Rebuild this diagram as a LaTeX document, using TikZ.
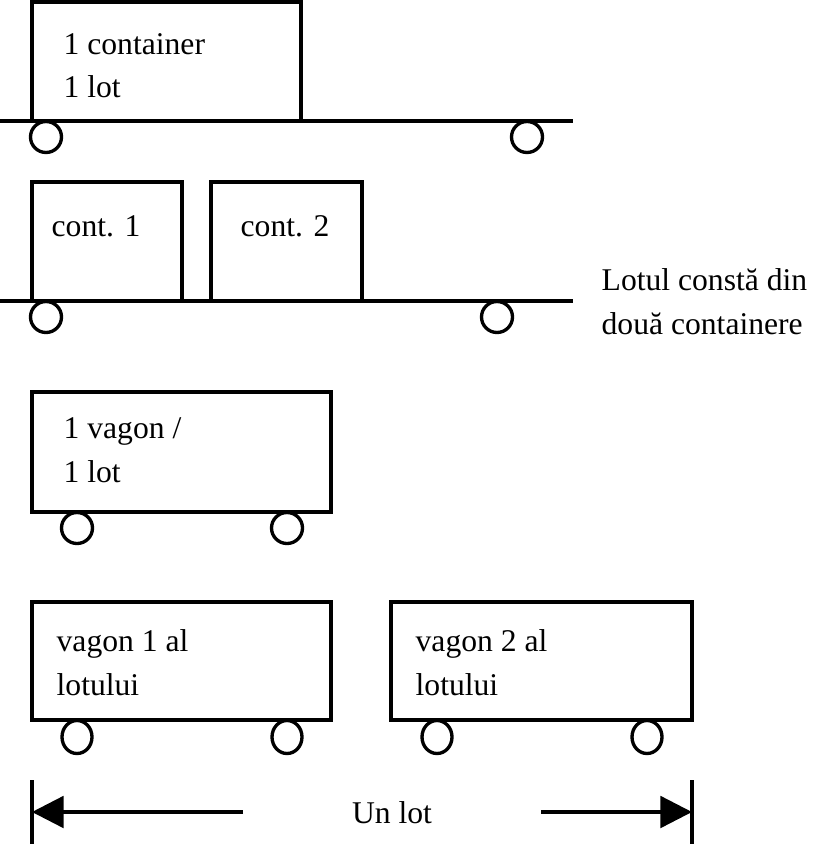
\documentclass[tikz,border=0pt]{standalone}
\usepackage{fontspec}
\setmainfont{Liberation Serif}
\usetikzlibrary{arrows.meta, positioning}

\begin{document}
\begin{tikzpicture}[
  x=0.02cm, y=-0.02cm,
  line width=1.9pt,
  lbl/.style={anchor=base west, align=left, inner sep=0pt, font=\fontsize{18}{25}\selectfont},
  dimarrow/.style={-{Triangle[length=18pt, width=18pt]}}
]
  \useasboundingbox (0,0) rectangle (812,844);

  % 1 container = 1 lot (base anchor sits on the last line)
  \draw (32,2) rectangle (301,121);
  \node[lbl] (onecont) at (62,98) {1 container\\1 lot};
  \draw (0,121) -- (573,121);
  \draw (46,137) circle[radius=15.5] (527,137) circle[radius=15.5];

  % two containers = 1 lot
  \draw (32,182) rectangle (182,301);
  \draw (211,182) rectangle (362,301);
  \node[lbl] (contA) at (50,236) {cont. 1};
  \node[lbl] (contB) at (239,236) {cont. 2};
  \draw (0,301) -- (573,301);
  \draw (46,317) circle[radius=15.5] (497,317) circle[radius=15.5];
  \node[lbl] (lotnote) at (600,334) {Lotul constă din\\două containere};

  % 1 wagon = 1 lot
  \draw (32,392) rectangle (331,512);
  \node[lbl] (onevag) at (62,482) {1 vagon /\\1 lot};
  \draw (77,528) circle[radius=15.5] (287,528) circle[radius=15.5];

  % two wagons = 1 lot
  \draw (32,602) rectangle (331,720);
  \draw (391,602) rectangle (692,720);
  \node[lbl] (vagA) at (55,695) {vagon 1 al\\lotului};
  \node[lbl] (vagB) at (414,695) {vagon 2 al\\lotului};
  \draw (77,737) ellipse[x radius=15, y radius=16.5] (287,737) ellipse[x radius=15, y radius=16.5];
  \draw (437,737) ellipse[x radius=15, y radius=16.5] (647,737) ellipse[x radius=15, y radius=16.5];

  % dimension line
  \coordinate (dimL) at (32,812);
  \coordinate (dimR) at (692,812);
  \coordinate (armL) at (243,812);
  \coordinate (armR) at (541,812);
  \node[lbl, anchor=base] (unlot) at (392,823) {Un lot};
  \draw (dimL) ++(0,-32) -- ++(0,64);
  \draw (dimR) ++(0,-32) -- ++(0,64);
  \draw[dimarrow] (armL) -- (dimL);
  \draw[dimarrow] (armR) -- (dimR);
\end{tikzpicture}
\end{document}
